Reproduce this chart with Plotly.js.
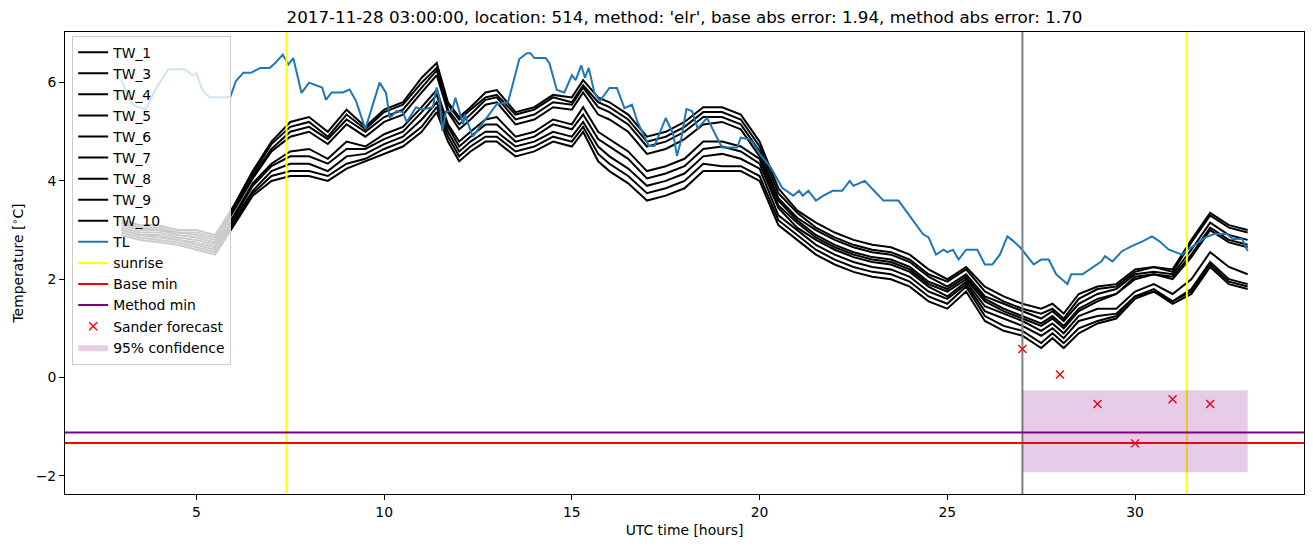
<!DOCTYPE html>
<html>
<head>
<meta charset="utf-8">
<script src="https://cdn.plot.ly/plotly-3.0.1.min.js"></script>
<style>html,body{margin:0;padding:0;background:#fff;}#chart{width:1313px;height:547px;}</style>
</head>
<body>
<div id="chart"></div>
<script>
// ---------- data ----------
const twX = [3, 3.5, 4, 4.5, 5, 5.5, 6, 6.5, 7, 7.5, 8, 8.5, 9, 9.5, 10, 10.5, 11, 11.4, 11.7, 12, 12.3, 12.7, 13, 13.5, 14, 14.5, 15, 15.3, 15.7, 16, 16.5, 17, 17.5, 18, 18.5, 19, 19.5, 20, 20.5, 21, 21.5, 22, 22.5, 23, 23.5, 24, 24.5, 25, 25.5, 26, 26.5, 27, 27.5, 27.8, 28.1, 28.5, 29, 29.5, 30, 30.5, 31, 31.5, 32, 32.5, 33];

const tw1 = [3.2,3.1,3.1,3.0,3.0,2.9,3.5,4.2,4.8,5.2, 5.3,5.0,5.45,5.1,5.45,5.6,6.1,6.4,5.6,5.3, 5.5,5.8,5.85,5.4,5.5,5.75,5.7,6.05,5.7,5.6, 5.35,4.9,5.0,5.2,5.5,5.5,5.35,4.8,3.85,3.4, 3.15,2.95,2.8,2.7,2.65,2.5,2.2,2.0,2.25,1.85, 1.65,1.5,1.4,1.5,1.3,1.7,1.85,1.9,2.2,2.25, 2.2,2.8,3.35,3.1,3.0];
const tw3 = [3.15,3.05,3.05,2.95,2.95,2.85,3.45,4.15,4.75,5.1, 5.2,4.9,5.35,5.05,5.4,5.55,6.0,6.3,5.55,5.25, 5.45,5.7,5.75,5.35,5.45,5.7,5.6,5.95,5.6,5.5, 5.25,4.8,4.9,5.1,5.4,5.4,5.25,4.7,3.75,3.35, 3.05,2.85,2.7,2.6,2.55,2.4,2.1,1.95,2.2,1.75, 1.55,1.4,1.3,1.4,1.2,1.6,1.8,1.85,2.15,2.25, 2.15,2.75,3.3,3.05,2.95];
const tw4 = [3.15,3.05,3.0,2.95,2.9,2.8,3.45,4.1,4.65,5.0, 5.1,4.85,5.25,5.0,5.3,5.45,5.9,6.25,5.45,5.15, 5.35,5.65,5.7,5.25,5.35,5.6,5.55,5.9,5.5,5.4, 5.15,4.7,4.8,5.0,5.3,5.3,5.15,4.6,3.65,3.25, 3.0,2.8,2.65,2.55,2.5,2.35,2.05,1.85,2.1,1.65, 1.5,1.35,1.2,1.35,1.15,1.5,1.7,1.8,2.1,2.15, 2.1,2.6,3.15,2.9,2.8];
const tw5 = [3.1,3.0,3.0,2.9,2.85,2.75,3.4,4.05,4.6,4.9, 5.0,4.75,5.15,4.9,5.2,5.35,5.8,6.15,5.4,5.05, 5.25,5.55,5.6,5.15,5.25,5.5,5.45,5.8,5.35,5.25, 5.0,4.55,4.65,4.85,5.15,5.2,5.05,4.5,3.6,3.2, 2.9,2.7,2.55,2.45,2.4,2.25,1.95,1.8,2.05,1.6, 1.4,1.25,1.1,1.25,1.05,1.4,1.6,1.7,2.05,2.1, 2.05,2.5,3.05,2.8,2.7];
const tw6 = [3.05,2.95,2.95,2.85,2.8,2.7,3.3,3.95,4.35,4.6, 4.65,4.45,4.8,4.7,4.95,5.1,5.5,5.85,5.15,4.8, 5.0,5.25,5.3,4.9,5.0,5.25,5.15,5.5,5.0,4.85, 4.6,4.2,4.3,4.45,4.8,4.8,4.7,4.45,3.5,3.15, 2.85,2.65,2.5,2.4,2.35,2.2,1.9,1.75,2.0,1.55, 1.35,1.2,1.05,1.2,1.0,1.35,1.55,1.7,2.0,2.1, 2.0,2.45,3.0,2.75,2.65];
const tw7 = [3.0,2.9,2.9,2.8,2.75,2.65,3.25,3.9,4.3,4.5, 4.5,4.35,4.65,4.65,4.85,5.0,5.4,5.75,5.1,4.7, 4.9,5.15,5.15,4.8,4.9,5.15,5.05,5.35,4.85,4.7, 4.45,4.05,4.15,4.3,4.65,4.7,4.6,4.35,3.45,3.05, 2.8,2.6,2.45,2.35,2.3,2.15,1.85,1.65,1.95,1.45, 1.3,1.15,0.95,1.1,0.9,1.25,1.4,1.4,1.75,1.9, 1.7,2.0,2.55,2.25,2.1];
const tw8 = [3.0,2.9,2.85,2.8,2.7,2.6,3.2,3.8,4.2,4.35, 4.35,4.2,4.5,4.55,4.75,4.9,5.25,5.6,5.0,4.6, 4.8,5.0,5.0,4.7,4.8,5.0,4.9,5.2,4.7,4.5, 4.25,3.9,4.0,4.15,4.5,4.55,4.45,4.25,3.3,3.0, 2.7,2.5,2.35,2.25,2.2,2.05,1.75,1.6,1.9,1.35, 1.2,1.05,0.85,1.0,0.8,1.15,1.25,1.3,1.65,1.8, 1.55,1.8,2.35,2.0,1.9];
const tw9 = [2.95,2.85,2.8,2.75,2.65,2.55,3.15,3.75,4.1,4.2, 4.2,4.1,4.35,4.45,4.65,4.8,5.1,5.5,4.9,4.5, 4.7,4.9,4.9,4.6,4.7,4.9,4.8,5.1,4.55,4.35, 4.1,3.75,3.85,4.0,4.35,4.3,4.3,4.1,3.2,2.9, 2.6,2.4,2.25,2.15,2.1,1.95,1.65,1.5,1.85,1.25, 1.05,0.95,0.7,0.9,0.7,1.0,1.15,1.25,1.65,1.75, 1.55,1.75,2.3,1.95,1.85];
const tw10 = [2.9,2.8,2.75,2.7,2.6,2.5,3.1,3.7,4.0,4.1, 4.1,4.0,4.25,4.4,4.55,4.7,5.0,5.4,4.8,4.4, 4.6,4.8,4.8,4.5,4.6,4.8,4.7,5.0,4.4,4.2, 3.95,3.6,3.7,3.85,4.2,4.2,4.2,4.0,3.1,2.8, 2.5,2.3,2.15,2.05,2.0,1.85,1.55,1.4,1.75,1.15, 0.95,0.85,0.6,0.8,0.6,0.9,1.1,1.2,1.6,1.75, 1.5,1.7,2.25,1.9,1.8];

const twNames = ['TW_1','TW_3','TW_4','TW_5','TW_6','TW_7','TW_8','TW_9','TW_10'];
const twSeries = [tw1, tw3, tw4, tw5, tw6, tw7, tw8, tw9, tw10];

const tlX = [3.0,3.3,3.65,3.9,4.25,4.7,4.9,5.0,5.15,5.35,5.9,6.05,6.25,6.45,6.7,6.95,7.1,7.3,7.45,7.58,7.8,8.0,8.35,8.45,8.6,8.9,9.08,9.25,9.5,9.88,10.05,10.15,10.33,10.5,10.6,10.85,11.0,11.3,11.4,11.47,11.55,11.65,11.8,11.9,12.1,12.15,12.36,13.0,13.3,13.6,13.8,13.9,14.0,14.3,14.4,14.6,14.8,15.0,15.1,15.25,15.35,15.45,15.6,15.75,16.0,16.2,16.4,16.6,16.75,17.05,17.2,17.5,17.7,17.8,17.9,18.05,18.2,18.35,18.6,19.0,19.4,19.5,19.7,19.8,20.0,20.3,20.6,20.9,21.05,21.15,21.3,21.5,21.7,21.95,22.2,22.4,22.5,22.8,23.05,23.3,23.7,23.9,24.1,24.35,24.5,24.7,24.9,25.0,25.15,25.3,25.5,25.8,26.0,26.2,26.4,26.6,26.75,26.95,27.3,27.5,27.7,27.9,28.2,28.3,28.6,28.8,29.1,29.2,29.4,29.65,29.9,30.2,30.45,30.65,30.9,31.25,31.4,31.6,31.85,32.1,32.45,32.6,32.85,33.0];
const tlY = [6.05,5.55,5.45,5.85,6.27,6.27,6.14,6.2,5.86,5.7,5.7,6.03,6.2,6.2,6.3,6.3,6.4,6.57,6.37,6.5,5.79,6.0,5.9,5.65,5.8,5.8,5.86,5.63,5.06,6.0,5.79,5.28,5.42,5.4,5.2,5.5,5.45,5.5,5.9,5.7,5.02,5.42,5.42,5.69,5.16,5.35,4.9,5.56,5.6,6.48,6.6,6.6,6.5,6.5,6.4,5.85,5.8,6.15,6.05,6.35,6.1,6.3,5.79,5.63,5.89,5.89,5.48,5.55,5.2,4.71,4.71,5.28,4.95,4.51,4.8,5.46,5.42,5.07,5.28,4.68,4.68,4.88,4.85,4.8,4.55,4.27,3.86,3.7,3.8,3.7,3.8,3.6,3.7,3.8,3.8,4.0,3.9,4.0,3.8,3.6,3.6,3.39,3.19,2.92,2.85,2.5,2.6,2.55,2.6,2.4,2.6,2.6,2.3,2.3,2.5,2.87,2.78,2.64,2.3,2.4,2.4,2.1,1.9,2.1,2.1,2.2,2.36,2.47,2.36,2.57,2.67,2.77,2.87,2.77,2.6,2.5,2.6,2.7,2.84,2.92,2.92,2.82,2.82,2.57];

const sunriseX = [7.4, 31.38];
const forecastStartX = 27;
const baseMin = -1.33;
const methodMin = -1.12;
const sanderX = [27, 28, 29, 30, 31, 32];
const sanderY = [0.58, 0.06, -0.54, -1.34, -0.44, -0.54];
const confX = [27, 33];
const confLow = -1.93;
const confHigh = -0.26;

const xRange = [1.5, 34.5];
const yRange = [-2.37, 7.03];
const xTicks = [5, 10, 15, 20, 25, 30];
const yTicks = [-2, 0, 2, 4, 6];

// ---------- traces ----------
const traces = [];
twSeries.forEach((s, i) => {
  traces.push({x: twX, y: s, name: twNames[i], type: 'scatter', mode: 'lines',
    line: {color: '#000000', width: 2}});
});
traces.push({x: tlX, y: tlY, name: 'TL', type: 'scatter', mode: 'lines',
  line: {color: '#1f77b4', width: 2}});
traces.push({x: [forecastStartX, forecastStartX], y: yRange, type: 'scatter', mode: 'lines',
  showlegend: false, hoverinfo: 'skip', line: {color: '#808080', width: 2}});
traces.push({x: [sunriseX[0], sunriseX[0], null, sunriseX[1], sunriseX[1]],
  y: [yRange[0], yRange[1], null, yRange[0], yRange[1]],
  name: 'sunrise', type: 'scatter', mode: 'lines', line: {color: '#ffff00', width: 2}});
traces.push({x: xRange, y: [baseMin, baseMin], name: 'Base min', type: 'scatter', mode: 'lines',
  line: {color: '#ff0000', width: 2}});
traces.push({x: xRange, y: [methodMin, methodMin], name: 'Method min', type: 'scatter', mode: 'lines',
  line: {color: '#800080', width: 2}});
traces.push({x: sanderX, y: sanderY, name: 'Sander forecast', type: 'scatter', mode: 'markers',
  marker: {symbol: 'x-thin', size: 8, color: '#ff0000', line: {color: '#ff0000', width: 1.4}}});
traces.push({x: [confX[0], confX[1], confX[1], confX[0], confX[0]],
  y: [confLow, confLow, confHigh, confHigh, confLow],
  name: '95% confidence', type: 'scatter', mode: 'lines', fill: 'toself',
  fillcolor: 'rgba(128,0,128,0.2)', line: {width: 0, color: 'rgba(128,0,128,0)'}});

const axisCommon = {
  showline: true, mirror: true, linecolor: '#000000', linewidth: 1,
  ticks: 'outside', ticklen: 5, tickwidth: 1, tickcolor: '#000000',
  showgrid: false, zeroline: false, tickfont: {size: 13.9, color: '#000000'}
};

const layout = {
  width: 1313, height: 547,
  margin: {l: 65, r: 9, t: 32, b: 53},
  paper_bgcolor: '#ffffff', plot_bgcolor: '#ffffff',
  font: {family: 'DejaVu Sans', size: 13.9, color: '#000000'},
  title: {text: "2017-11-28 03:00:00, location: 514, method: 'elr', base abs error: 1.94, method abs error: 1.70",
    font: {size: 16.7, color: '#000000'}, x: 0.5, xref: 'paper', xanchor: 'center',
    y: 1 - 17 / 547, yref: 'container', yanchor: 'middle'},
  xaxis: Object.assign({}, axisCommon, {range: xRange, tickvals: xTicks, ticktext: xTicks.map(String),
    title: {text: 'UTC time [hours]', font: {size: 13.9}, standoff: 6}}),
  yaxis: Object.assign({}, axisCommon, {range: yRange, tickvals: yTicks, ticktext: yTicks.map(v => v < 0 ? '\u2212' + Math.abs(v) : String(v)),
    title: {text: 'Temperature [<sup>\u2218</sup>C]', font: {size: 13.9}, standoff: 8}}),
  showlegend: true,
  legend: {x: 0.0058, y: 0.992, xanchor: 'left', yanchor: 'top',
    bgcolor: 'rgba(255,255,255,0.8)', bordercolor: '#cccccc', borderwidth: 1,
    font: {size: 13.9, color: '#000000'}, tracegroupgap: 0, itemwidth: 30}
};

Plotly.newPlot('chart', traces, layout, {displayModeBar: false, staticPlot: true});
</script>
</body>
</html>
